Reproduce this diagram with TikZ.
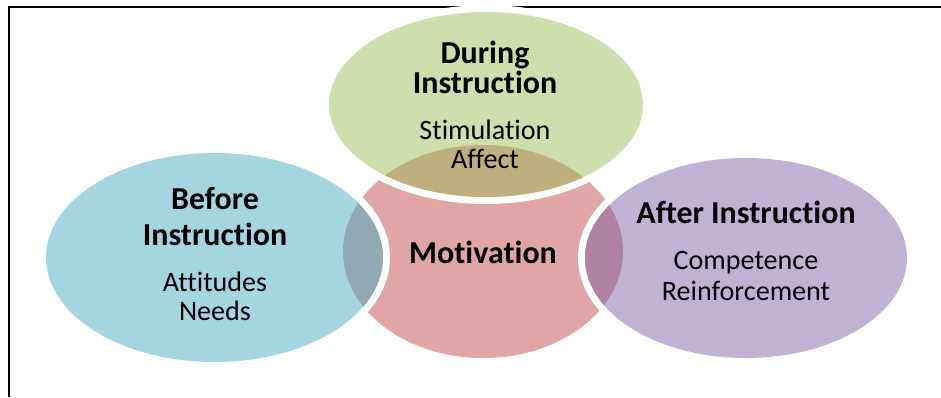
\documentclass[tikz,border=0pt]{standalone}
\usepackage{fontspec}
\setmainfont{Carlito}[Ligatures = NoCommon]
\definecolor{beforeblue}{HTML}{A6D5E2}
\definecolor{duringgreen}{HTML}{CFDEAD}
\definecolor{afterpurple}{HTML}{BFB2D4}
\definecolor{motivpink}{HTML}{E0A6A6}
\definecolor{beforelens}{HTML}{92A8B3}
\definecolor{duringlens}{HTML}{BDB07E}
\definecolor{afterlens}{HTML}{AE82A0}
\begin{document}
\begin{tikzpicture}[x = 0.02cm, y = -0.02cm,
                    head/.style = {font = \bfseries\fontsize{18.2}{17}\selectfont, align = center, inner sep = 0pt, anchor = base},
                    body/.style = {font = \fontsize{16}{16.5}\selectfont, align = center, inner sep = 0pt, anchor = base},
                    gap/.style = {preaction = {draw = white, line width = 0.28cm}}]
        \useasboundingbox (0,0) rectangle (941,397);
        \draw [line width = 1pt] (941,7) -- (9,7) -- (9,397);

        \fill [motivpink] (483,251.5) ellipse [x radius = 140, y radius = 106.5];
        \path [gap, fill = beforeblue]  (214.5,257.5) ellipse [x radius = 168.5, y radius = 104.5];
        \path [gap, fill = duringgreen] (486,104.5)   ellipse [x radius = 157, y radius = 92.5];
        \path [gap, fill = afterpurple] (746,258)     ellipse [x radius = 161, y radius = 100];

        \begin{scope}
            \clip (214.5,257.5) ellipse [x radius = 168.5, y radius = 104.5];
            \fill [beforelens] (483,251.5) ellipse [x radius = 140, y radius = 106.5];
        \end{scope}
        \begin{scope}
            \clip (486,104.5) ellipse [x radius = 157, y radius = 92.5];
            \fill [duringlens] (483,251.5) ellipse [x radius = 140, y radius = 106.5];
        \end{scope}
        \begin{scope}
            \clip (746,258) ellipse [x radius = 161, y radius = 100];
            \fill [afterlens] (483,251.5) ellipse [x radius = 140, y radius = 106.5];
        \end{scope}

        % anchor base = baseline of the last line
        \node [head, font = \bfseries\fontsize{18.2}{20}\selectfont] (BH) at (215,245) {Before\\Instruction};
        \node [body] (BB) at (215,320) {Attitudes\\Needs};
        \node [head] (DH) at (485,93)  {During\\Instruction};
        \node [body, font = \fontsize{16}{16}\selectfont] (DB) at (485,168) {Stimulation\\Affect};
        \node [head] (AH) at (746,223) {After Instruction};
        \node [body, font = \fontsize{16}{17.5}\selectfont] (AB) at (746,300) {Competence\\Reinforcement};
        \node [head] (MH) at (483,263) {Motivation};
\end{tikzpicture}
\end{document}
